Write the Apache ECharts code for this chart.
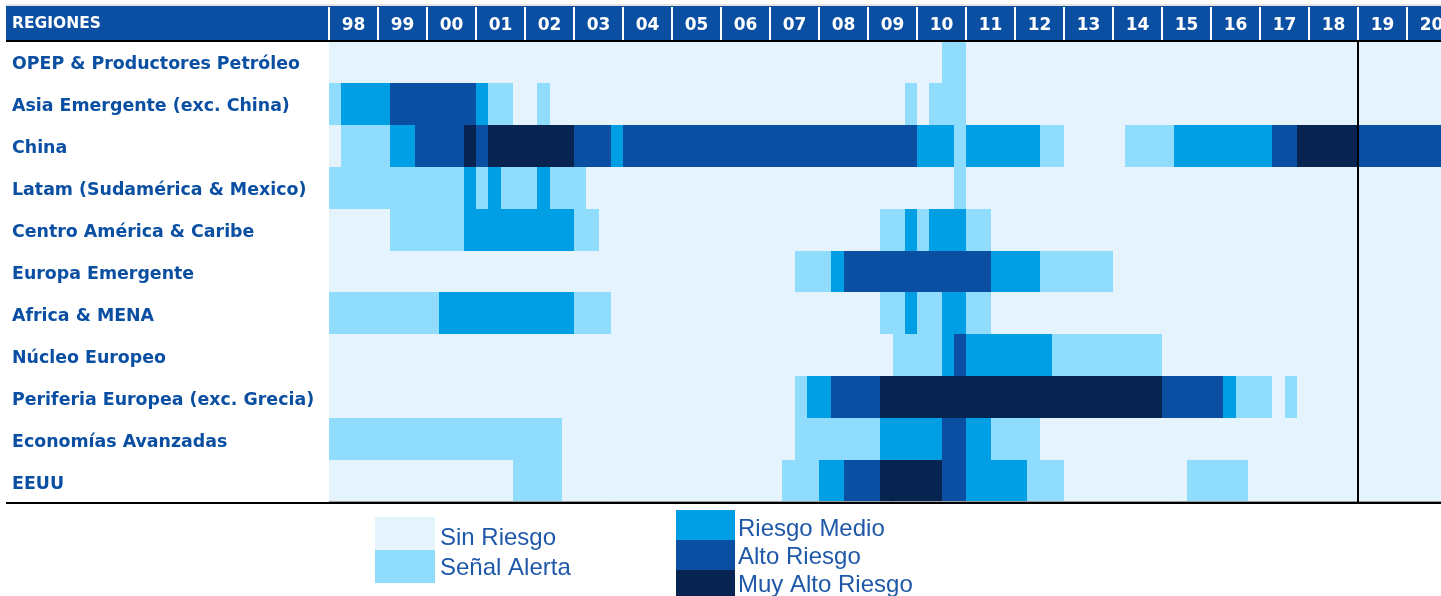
<!DOCTYPE html>
<html>
<head>
<meta charset="utf-8">
<script src="https://cdn.jsdelivr.net/npm/echarts@6/dist/echarts.min.js"></script>
<style>
html,body{margin:0;padding:0;background:#fff;overflow:hidden;width:1441px;height:596px;}
#chart{width:1456px;height:596px;}
</style>
</head>
<body>
<div id="chart"></div>
<script>
// ---- Data ----
const yearLabels = ['98','99','00','01','02','03','04','05','06','07','08','09','10','11','12','13','14','15','16','17','18','19','20'];
const quarterNames = ['T1','T2','T3','T4'];
const regions = [
  'OPEP & Productores Petróleo',
  'Asia Emergente (exc. China)',
  'China',
  'Latam (Sudamérica & Mexico)',
  'Centro América & Caribe',
  'Europa Emergente',
  'Africa & MENA',
  'Núcleo Europeo',
  'Periferia Europea (exc. Grecia)',
  'Economías Avanzadas',
  'EEUU'
];
const levelNames = ['Sin Riesgo','Señal Alerta','Riesgo Medio','Alto Riesgo','Muy Alto Riesgo'];
const levelColors = ['#e5f3fc','#8fdcfd','#009fe3','#0a4fa2','#07234f'];

// quarterly risk level, 1998T1 .. 2020T4 (groups of 4 = one year)
const opep = [
0,0,0,0, 0,0,0,0, 0,0,0,0, 0,0,0,0, 0,0,0,0, 0,0,0,0, 0,0,0,0, 0,0,0,0, 0,0,0,0, 0,0,0,0, 0,0,0,0, 0,0,0,0,
0,0,1,1, 0,0,0,0, 0,0,0,0, 0,0,0,0, 0,0,0,0, 0,0,0,0, 0,0,0,0, 0,0,0,0, 0,0,0,0, 0,0,0,0, 0,0,0,0];
const asiaEmergente = [
1,2,2,2, 2,3,3,3, 3,3,3,3, 2,1,1,0, 0,1,0,0, 0,0,0,0, 0,0,0,0, 0,0,0,0, 0,0,0,0, 0,0,0,0, 0,0,0,0, 0,0,0,1,
0,1,1,1, 0,0,0,0, 0,0,0,0, 0,0,0,0, 0,0,0,0, 0,0,0,0, 0,0,0,0, 0,0,0,0, 0,0,0,0, 0,0,0,0, 0,0,0,0];
const china = [
0,1,1,1, 1,2,2,3, 3,3,3,4, 3,4,4,4, 4,4,4,4, 3,3,3,2, 3,3,3,3, 3,3,3,3, 3,3,3,3, 3,3,3,3, 3,3,3,3, 3,3,3,3,
2,2,2,1, 2,2,2,2, 2,2,1,1, 0,0,0,0, 0,1,1,1, 1,2,2,2, 2,2,2,2, 2,3,3,4, 4,4,4,4, 3,3,3,3, 3,3,3,3];
const latam = [
1,1,1,1, 1,1,1,1, 1,1,1,2, 1,2,1,1, 1,2,1,1, 1,0,0,0, 0,0,0,0, 0,0,0,0, 0,0,0,0, 0,0,0,0, 0,0,0,0, 0,0,0,0,
0,0,0,1, 0,0,0,0, 0,0,0,0, 0,0,0,0, 0,0,0,0, 0,0,0,0, 0,0,0,0, 0,0,0,0, 0,0,0,0, 0,0,0,0, 0,0,0,0];
const centroAmerica = [
0,0,0,0, 0,1,1,1, 1,1,1,2, 2,2,2,2, 2,2,2,2, 1,1,0,0, 0,0,0,0, 0,0,0,0, 0,0,0,0, 0,0,0,0, 0,0,0,0, 0,1,1,2,
1,2,2,2, 1,1,0,0, 0,0,0,0, 0,0,0,0, 0,0,0,0, 0,0,0,0, 0,0,0,0, 0,0,0,0, 0,0,0,0, 0,0,0,0, 0,0,0,0];
const europaEmergente = [
0,0,0,0, 0,0,0,0, 0,0,0,0, 0,0,0,0, 0,0,0,0, 0,0,0,0, 0,0,0,0, 0,0,0,0, 0,0,0,0, 0,0,1,1, 1,2,3,3, 3,3,3,3,
3,3,3,3, 3,3,2,2, 2,2,1,1, 1,1,1,1, 0,0,0,0, 0,0,0,0, 0,0,0,0, 0,0,0,0, 0,0,0,0, 0,0,0,0, 0,0,0,0];
const africaMena = [
1,1,1,1, 1,1,1,1, 1,2,2,2, 2,2,2,2, 2,2,2,2, 1,1,1,0, 0,0,0,0, 0,0,0,0, 0,0,0,0, 0,0,0,0, 0,0,0,0, 0,1,1,2,
1,1,2,2, 1,1,0,0, 0,0,0,0, 0,0,0,0, 0,0,0,0, 0,0,0,0, 0,0,0,0, 0,0,0,0, 0,0,0,0, 0,0,0,0, 0,0,0,0];
const nucleoEuropeo = [
0,0,0,0, 0,0,0,0, 0,0,0,0, 0,0,0,0, 0,0,0,0, 0,0,0,0, 0,0,0,0, 0,0,0,0, 0,0,0,0, 0,0,0,0, 0,0,0,0, 0,0,1,1,
1,1,2,3, 2,2,2,2, 2,2,2,1, 1,1,1,1, 1,1,1,1, 0,0,0,0, 0,0,0,0, 0,0,0,0, 0,0,0,0, 0,0,0,0, 0,0,0,0];
const periferiaEuropea = [
0,0,0,0, 0,0,0,0, 0,0,0,0, 0,0,0,0, 0,0,0,0, 0,0,0,0, 0,0,0,0, 0,0,0,0, 0,0,0,0, 0,0,1,2, 2,3,3,3, 3,4,4,4,
4,4,4,4, 4,4,4,4, 4,4,4,4, 4,4,4,4, 4,4,4,4, 3,3,3,3, 3,2,1,1, 1,0,1,0, 0,0,0,0, 0,0,0,0, 0,0,0,0];
const economiasAvanzadas = [
1,1,1,1, 1,1,1,1, 1,1,1,1, 1,1,1,1, 1,1,1,0, 0,0,0,0, 0,0,0,0, 0,0,0,0, 0,0,0,0, 0,0,1,1, 1,1,1,1, 1,2,2,2,
2,2,3,3, 2,2,1,1, 1,1,0,0, 0,0,0,0, 0,0,0,0, 0,0,0,0, 0,0,0,0, 0,0,0,0, 0,0,0,0, 0,0,0,0, 0,0,0,0];
const eeuu = [
0,0,0,0, 0,0,0,0, 0,0,0,0, 0,0,0,1, 1,1,1,0, 0,0,0,0, 0,0,0,0, 0,0,0,0, 0,0,0,0, 0,1,1,1, 2,2,3,3, 3,4,4,4,
4,4,3,3, 2,2,2,2, 2,1,1,1, 0,0,0,0, 0,0,0,0, 0,0,1,1, 1,1,1,0, 0,0,0,0, 0,0,0,0, 0,0,0,0, 0,0,0,0];
const regionValues = [opep, asiaEmergente, china, latam, centroAmerica, europaEmergente, africaMena, nucleoEuropeo, periferiaEuropea, economiasAvanzadas, eeuu];
const forecastStartYear = '19';

// ---- Build ----
const quarterLabels = [];
yearLabels.forEach(y => quarterNames.forEach(q => quarterLabels.push(y + q)));
const heatData = [];
regionValues.forEach((row, r) => row.forEach((v, q) => heatData.push([q, r, v])));

const GRID_LEFT = 329, GRID_TOP = 41, GRID_H = 461, FULL_W = 1456;
const labelBlue = '#0a4fa2';
const legendText = '#1f58a8';

const chart = echarts.init(document.getElementById('chart'), null, {renderer: 'canvas'});

const legendGraphics = [];
const legendLayout = [
  {x: 375, y: 517, w: 60, h: 33, tx: 440, ty: 538},
  {x: 375, y: 550, w: 60, h: 33, tx: 440, ty: 568},
  {x: 676, y: 510, w: 59, h: 30, tx: 738, ty: 529},
  {x: 676, y: 540, w: 59, h: 30, tx: 738, ty: 557},
  {x: 676, y: 570, w: 59, h: 30, tx: 738, ty: 585}
];
levelNames.forEach((name, i) => {
  const L = legendLayout[i];
  legendGraphics.push({type: 'rect', shape: {x: L.x, y: L.y, width: L.w, height: L.h}, style: {fill: levelColors[i]}, z: 5});
  legendGraphics.push({type: 'text', x: L.tx, y: L.ty, style: {text: name, fill: legendText, font: '24px "Liberation Sans", Arial, sans-serif', textVerticalAlign: 'middle', textAlign: 'left'}, z: 5});
});

function renderCell(params, api) {
  const c = api.coord([api.value(0), api.value(1)]);
  const s = api.size([1, 1]);
  const x0 = Math.round(c[0] - s[0] / 2), x1 = Math.round(c[0] + s[0] / 2);
  const y0 = Math.round(c[1] - s[1] / 2), y1 = Math.round(c[1] + s[1] / 2);
  return {type: 'rect', shape: {x: x0, y: y0, width: x1 - x0, height: y1 - y0}, style: {fill: api.visual('color')}};
}

const option = {
  backgroundColor: '#ffffff',
  animation: false,
  grid: {left: GRID_LEFT, top: GRID_TOP, right: 0, height: GRID_H, containLabel: false},
  xAxis: [
    {
      type: 'category', data: quarterLabels, position: 'bottom',
      axisLine: {show: false}, axisTick: {show: false}, axisLabel: {show: false},
      splitLine: {show: false}, splitArea: {show: false}
    },
    {
      type: 'category', data: yearLabels, position: 'top', z: 10,
      axisLine: {show: false},
      axisTick: {show: true, length: 34, lineStyle: {color: '#ffffff', width: 2}},
      axisLabel: {color: '#ffffff', fontFamily: '"DejaVu Sans", sans-serif', fontWeight: 'bold', fontSize: 17, margin: 7},
      splitLine: {show: false}
    }
  ],
  yAxis: {
    type: 'category', data: regions, inverse: true,
    axisLine: {show: false}, axisTick: {show: false},
    axisLabel: {
      align: 'left', margin: GRID_LEFT - 12,
      formatter: v => '{r|' + v + '}',
      rich: {r: {color: labelBlue, fontFamily: '"DejaVu Sans", sans-serif', fontWeight: 'bold', fontSize: 17.4, padding: [6, 0, 0, 0]}}
    },
    splitLine: {show: false}, splitArea: {show: false}
  },
  visualMap: {
    type: 'piecewise', show: false, dimension: 2, seriesIndex: 0,
    pieces: levelColors.map((c, i) => ({value: i, color: c}))
  },
  series: [{
    type: 'custom', xAxisIndex: 0, yAxisIndex: 0, data: heatData,
    encode: {x: 0, y: 1},
    renderItem: renderCell,
    silent: true
  }],
  graphic: [
    {type: 'rect', shape: {x: 6, y: 6, width: FULL_W - 6, height: 34}, style: {fill: '#0a4fa2'}, z: 0},
    {type: 'line', shape: {x1: 6, y1: 5, x2: FULL_W, y2: 5}, style: {stroke: '#c8c8c8', lineWidth: 1}, z: 1},
    {type: 'text', x: 12, y: 24, style: {text: 'REGIONES', fill: '#ffffff', font: 'bold 15.5px "DejaVu Sans", sans-serif', textVerticalAlign: 'middle'}, z: 20},
    {type: 'line', shape: {x1: 6, y1: 41, x2: FULL_W, y2: 41}, style: {stroke: '#000000', lineWidth: 2}, z: 20},
    {type: 'line', shape: {x1: 6, y1: 503, x2: FULL_W, y2: 503}, style: {stroke: '#000000', lineWidth: 2}, z: 20},
    {type: 'line', shape: {x1: GRID_LEFT, y1: 501.5, x2: FULL_W, y2: 501.5}, style: {stroke: '#9a9a9a', lineWidth: 1}, z: 19}
  ].concat(legendGraphics)
};
chart.setOption(option);

// forecast separator between 18 and 19, located through the year axis
const yi = yearLabels.indexOf(forecastStartYear);
const xPrev = chart.convertToPixel({xAxisIndex: 1}, yearLabels[yi - 1]);
const xNext = chart.convertToPixel({xAxisIndex: 1}, yearLabels[yi]);
const xSep = (xPrev + xNext) / 2;
option.graphic.push({type: 'line', shape: {x1: xSep, y1: GRID_TOP, x2: xSep, y2: GRID_TOP + GRID_H}, style: {stroke: '#000000', lineWidth: 2}, z: 30});
chart.setOption({graphic: option.graphic});
</script>
</body>
</html>
